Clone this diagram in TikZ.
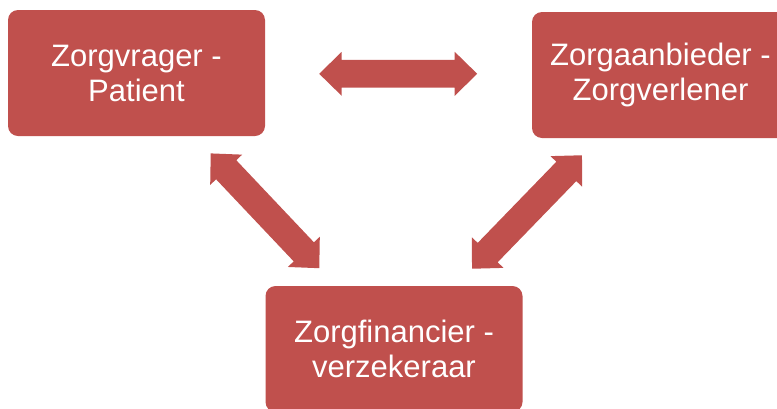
\documentclass[tikz,border=0pt]{standalone}
\usepackage{fontspec}
\setmainfont{Liberation Sans}
\definecolor{boxred}{HTML}{C0504D}
\tikzset{
  box/.style={fill=boxred, draw=none, rounded corners=10pt, minimum width=257pt, minimum height=126pt,
    text=white, align=center, inner sep=0pt, font=\fontsize{31}{35}\selectfont},
  dblarrow/.pic={
    \fill[boxred] (-79,0) -- (-56.5,22) -- (-56.5,13.9) -- (56.5,13.9) -- (56.5,22) -- (79,0)
      -- (56.5,-22) -- (56.5,-13.9) -- (-56.5,-13.9) -- (-56.5,-22) -- cycle;
  }
}
\begin{document}
\begin{tikzpicture}[x=1pt,y=1pt]
\useasboundingbox (0,0) rectangle (777,-408);
\clip (0,0) rectangle (777,-408);
\node[box] (zv) at (136.5,-73) {Zorgvrager -\\Patient};
\node[box] (za) at (660.5,-75) {Zorgaanbieder -\\Zorgverlener};
\node[box] (zf) at (394,-349) {Zorgfinancier -\\verzekeraar};
\pic at (398.2,-73.8) {dblarrow};
\pic[rotate=-46.6] at (265,-210.8) {dblarrow};
\pic[rotate=45.9] at (527,-212) {dblarrow};
\end{tikzpicture}
\end{document}
